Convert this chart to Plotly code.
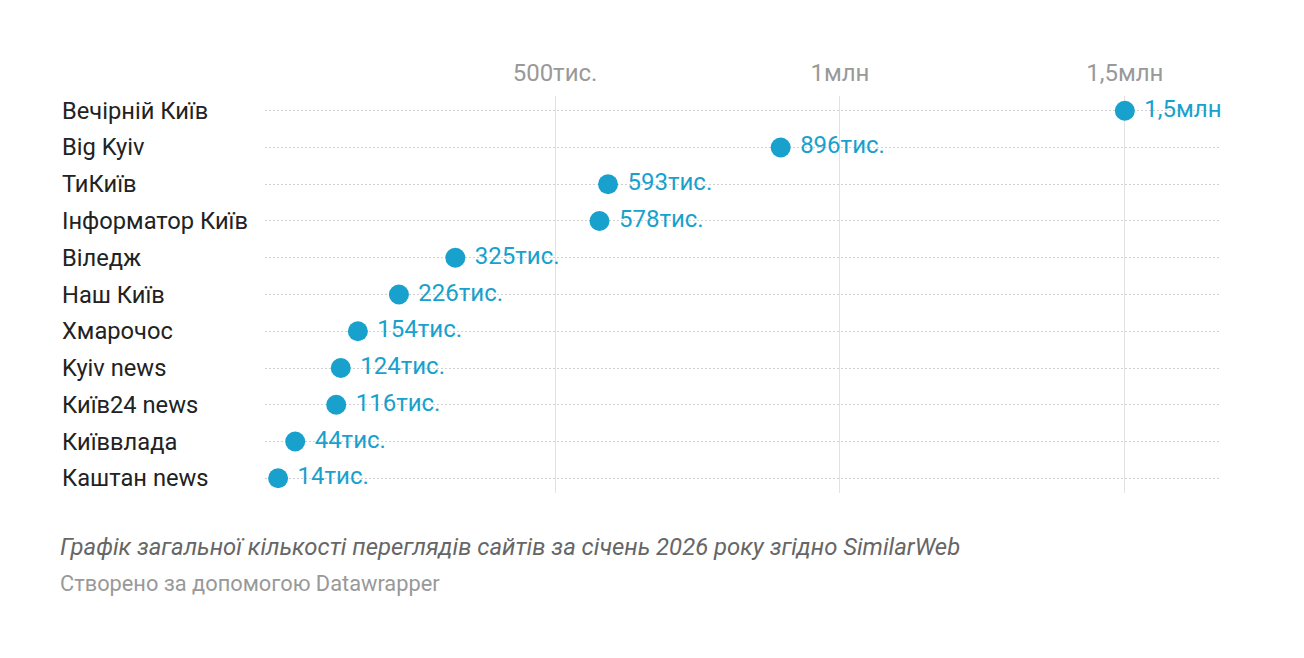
import plotly.graph_objects as go

sites = ["Вечірній Київ", "Big Kyiv", "ТиКиїв", "Інформатор Київ", "Віледж",
         "Наш Київ", "Хмарочос", "Kyiv news", "Київ24 news", "Київвлада",
         "Каштан news"]
views = [1500000, 896000, 593000, 578000, 325000, 226000, 154000, 124000,
         116000, 44000, 14000]
tick_vals = [500000, 1000000, 1500000]
tick_text = ["500тис.", "1млн", "1,5млн"]

caption = "Графік загальної кількості переглядів сайтів за січень 2026 року згідно SimilarWeb"
credit = "Створено за допомогою Datawrapper"

BLUE = "#18a1cd"
FONT = "Roboto"


def fmt(v):
    if v >= 1000000:
        s = f"{v / 1000000:.1f}".rstrip("0").rstrip(".").replace(".", ",")
        return s + "млн"
    return f"{round(v / 1000)}тис."


fig = go.Figure()
fig.add_trace(go.Scatter(
    x=views,
    y=sites,
    mode="markers+text",
    marker=dict(size=20, color=BLUE),
    text=[" " + fmt(v) for v in views],
    textposition="middle right",
    textfont=dict(family=FONT, size=24, color=BLUE),
    cliponaxis=False,
    hoverinfo="skip",
))

# the page has an 8px body margin, so everything is laid out 8px up/left
annotations = [
    dict(xref="paper", yref="y", x=-0.2147, y=s, text=s, showarrow=False,
         xanchor="left", yanchor="middle",
         font=dict(family=FONT, size=23.7, color="#222222"))
    for s in sites
]
annotations += [
    dict(xref="paper", yref="paper", x=-0.2168, y=-0.137, text=f"<i>{caption}</i>",
         showarrow=False, xanchor="left", yanchor="middle",
         font=dict(family=FONT, size=23.9, color="#666666")),
    dict(xref="paper", yref="paper", x=-0.2168, y=-0.229, text=credit,
         showarrow=False, xanchor="left", yanchor="middle",
         font=dict(family=FONT, size=21.8, color="#999999")),
]

fig.update_layout(
    width=1304,
    height=658,
    margin=dict(l=257, r=92, t=88, b=173),
    plot_bgcolor="white",
    paper_bgcolor="white",
    showlegend=False,
    annotations=annotations,
    xaxis=dict(
        side="top",
        range=[-9000, 1667000],
        tickvals=tick_vals,
        ticktext=tick_text,
        tickfont=dict(family=FONT, size=24, color="#999999"),
        ticks="outside",
        ticklen=4,
        tickcolor="rgba(0,0,0,0)",
        showgrid=True,
        gridcolor="#e2e2e2",
        gridwidth=1,
        zeroline=False,
        showline=False,
        fixedrange=True,
    ),
    yaxis=dict(
        categoryorder="array",
        categoryarray=sites,
        range=[10.4, -0.4],
        showticklabels=False,
        showgrid=True,
        gridcolor="#d0d0d0",
        griddash="2px,2px",
        gridwidth=1,
        zeroline=False,
        showline=False,
        fixedrange=True,
    ),
)

fig.write_html("out.html")
